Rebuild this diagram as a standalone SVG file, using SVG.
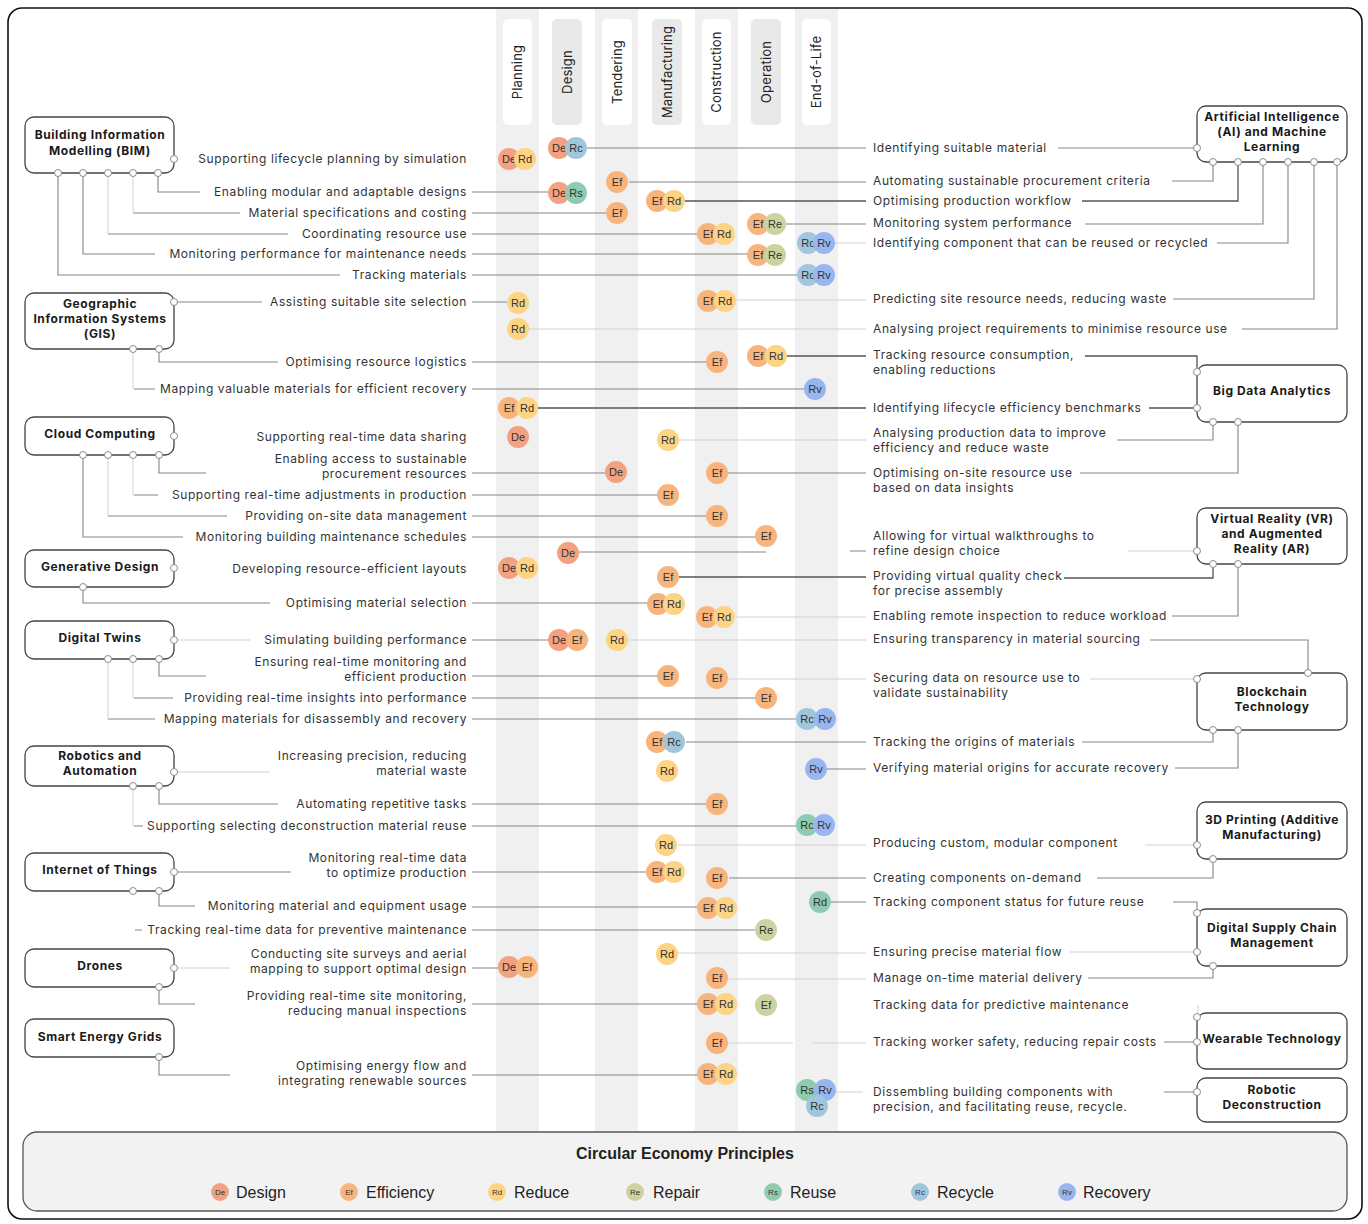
<svg xmlns="http://www.w3.org/2000/svg" width="1368" height="1224" viewBox="0 0 1368 1224">
<style>
.t{font-family:Inter,"Open Sans",sans-serif;font-size:12px;letter-spacing:0.6px;fill:#333}
.l{text-anchor:end}
.h{font-family:Inter,"Open Sans",sans-serif;font-size:13px;letter-spacing:0.2px;fill:#222;text-anchor:middle}
.n{font-family:Inter,"Open Sans",sans-serif;font-size:12px;letter-spacing:0.6px;font-weight:700;fill:#1a1a1a;text-anchor:middle}
.box{fill:#fff;stroke:#444;stroke-width:1.3}
.cw{fill:#fff}.cg{fill:#e9e9e9}
.band{fill:#f0f0f0}
.cn{fill:#fff;stroke:#8a8a8a;stroke-width:1}
.ln{fill:none;stroke:#858585;stroke-width:1.1}
.lf{fill:none;stroke:#d2d2d2;stroke-width:1}
.ld{fill:none;stroke:#555;stroke-width:1.3}
.ct{font-family:"Liberation Sans",Arial,sans-serif;font-size:11px;fill:#333;text-anchor:middle}
.cs{font-family:"Liberation Sans",Arial,sans-serif;font-size:8px;fill:#333;text-anchor:middle}
.lg{font-family:"Liberation Sans",Arial,sans-serif;font-size:16px;fill:#222}
.De{fill:#f2a282}.Ef{fill:#f8b47d}.Rd{fill:#fdd384}.Re{fill:#ccd3a1}.Rs{fill:#8fcbb0}.Rc{fill:#a0c6dc}.Rv{fill:#97b5ef}
</style>
<rect x="8" y="8" width="1354" height="1211" rx="14" fill="#fff"/>
<g id="columns">
<rect class="band" x="496" y="9" width="43" height="1122"/>
<rect class="band" x="595" y="9" width="43" height="1122"/>
<rect class="band" x="695" y="9" width="43" height="1122"/>
<rect class="band" x="795" y="9" width="43" height="1122"/>
<rect class="cw" x="503" y="19" width="29" height="106" rx="5"/>
<rect class="cg" x="552" y="19" width="30" height="106" rx="5"/>
<rect class="cw" x="602" y="19" width="30" height="106" rx="5"/>
<rect class="cg" x="652" y="19" width="30" height="106" rx="5"/>
<rect class="cw" x="702" y="19" width="29" height="106" rx="5"/>
<rect class="cg" x="751" y="19" width="30" height="106" rx="5"/>
<rect class="cw" x="802" y="19" width="29" height="106" rx="5"/>
<text class="h" transform="translate(522,72) rotate(-90)">Planning</text>
<text class="h" transform="translate(571.5,72) rotate(-90)">Design</text>
<text class="h" transform="translate(621.5,72) rotate(-90)">Tendering</text>
<text class="h" transform="translate(671.5,72) rotate(-90)">Manufacturing</text>
<text class="h" transform="translate(721,72) rotate(-90)">Construction</text>
<text class="h" transform="translate(770.5,72) rotate(-90)">Operation</text>
<text class="h" transform="translate(821,72) rotate(-90)">End-of-Life</text>
</g>
<rect x="8" y="8" width="1354" height="1211" rx="14" fill="none" stroke="#111" stroke-width="1.6"/>
<g id="connectors">
<path class="ln" d="M158 176V192H200M133 213H240M108 234H288M83 176V254H155M58 176V275H340"/>
<path class="lf" d="M133 176V213M108 176V234"/>
<path class="ln" d="M472 192H548M472 213H606M472 234H697M472 254H747M472 275H797"/>
<path class="ln" d="M177 302H262M472 302H507M159 352V362H278M472 362H706M134 389H155M472 389H804"/>
<path class="lf" d="M133 352V389"/>
<path class="ln" d="M159 458V473H206M472 473H605M134 495H158M472 495H657M108 516H227M472 516H706M83 458V537H183M472 537H755"/>
<path class="lf" d="M133 458V495M108 458V516"/>
<path class="ln" d="M83 590V603H270M472 603H647"/>
<path class="lf" d="M177 640H250"/>
<path class="ln" d="M472 640H548M159 662V676H206M472 676H657M134 698H173M472 698H755M108 719H155M472 719H796"/>
<path class="lf" d="M133 662V698M108 662V719M177 772H270"/>
<path class="ln" d="M159 789V804H278M472 804H706M134 826H143M472 826H796"/>
<path class="lf" d="M133 789V826"/>
<path class="ln" d="M177 872H291M472 872H646M159 894V906H195M472 907H697M135 930H142M472 930H755"/>
<path class="lf" d="M177 968H230"/>
<path class="ln" d="M472 968H498M159 990V1004H195M472 1004H697M159 1060V1075H230M472 1075H697"/>
<path class="ln" d="M587 148H866M1058 148H1194M629 182H866M1172 181H1213V165"/>
<path class="ld" d="M685 201H866M1082 201H1238V165"/>
<path class="ln" d="M786 224H866M1085 224H1263V165"/>
<path class="lf" d="M835 243H866M736 300H866M529 329H866"/>
<path class="ln" d="M1217 243H1288V165M1173 299H1314V165M1242 329H1337V165"/>
<path class="ld" d="M787 356H866M1085 356H1197V368M537 408H866M1149 408H1194"/>
<path class="lf" d="M679 440H866"/>
<path class="ln" d="M1117 440H1213V425M728 473H866M1080 473H1238V425"/>
<path class="ln" d="M579 552H766M850 551H866"/>
<path class="lf" d="M1128 551H1194"/>
<path class="ld" d="M679 577H866M1064 578H1213V567"/>
<path class="lf" d="M736 617H866M628 640H866M728 679H866M1090 679H1194"/>
<path class="ln" d="M1172 616H1238V567M1150 640H1308V670"/>
<path class="ln" d="M686 742H866M1082 742H1213V733M827 769H866M1175 768H1238V733"/>
<path class="lf" d="M678 845H866M1145 845H1194"/>
<path class="ln" d="M729 878H866M1097 878H1213V862M831 902H866M1173 902H1197V910"/>
<path class="lf" d="M678 953H866M1070 952H1194M729 979H866"/>
<path class="ln" d="M1088 978H1213V969"/>
<path class="lf" d="M1198 1005V1013M729 1043H793M812 1043H866M835 1092H863"/>
<path class="ln" d="M1164 1042H1194M1164 1092H1194"/>
</g>
<g id="node-bim"><rect class="box" x="25" y="117" width="149" height="56" rx="9"/><text class="n" x="100" y="139">Building Information</text><text class="n" x="100" y="155">Modelling (BIM)</text>
<circle class="cn" cx="174" cy="159" r="3.5"/><circle class="cn" cx="58" cy="173" r="3.5"/><circle class="cn" cx="83" cy="173" r="3.5"/><circle class="cn" cx="108" cy="173" r="3.5"/><circle class="cn" cx="133" cy="173" r="3.5"/><circle class="cn" cx="158" cy="173" r="3.5"/></g>
<g id="node-gis"><rect class="box" x="25" y="293" width="149" height="56" rx="9"/><text class="n" x="100" y="308">Geographic</text><text class="n" x="100" y="323">Information Systems</text><text class="n" x="100" y="338">(GIS)</text>
<circle class="cn" cx="174" cy="302" r="3.5"/><circle class="cn" cx="133" cy="349" r="3.5"/><circle class="cn" cx="159" cy="349" r="3.5"/></g>
<g id="node-cloud"><rect class="box" x="25" y="417" width="149" height="38" rx="9"/><text class="n" x="100" y="438">Cloud Computing</text>
<circle class="cn" cx="174" cy="436" r="3.5"/><circle class="cn" cx="83" cy="455" r="3.5"/><circle class="cn" cx="108" cy="455" r="3.5"/><circle class="cn" cx="133" cy="455" r="3.5"/><circle class="cn" cx="159" cy="455" r="3.5"/></g>
<g id="node-gendesign"><rect class="box" x="25" y="550" width="149" height="37" rx="9"/><text class="n" x="100" y="571">Generative Design</text>
<circle class="cn" cx="174" cy="568" r="3.5"/><circle class="cn" cx="83" cy="587" r="3.5"/></g>
<g id="node-twins"><rect class="box" x="25" y="621" width="149" height="38" rx="9"/><text class="n" x="100" y="642">Digital Twins</text>
<circle class="cn" cx="174" cy="640" r="3.5"/><circle class="cn" cx="108" cy="659" r="3.5"/><circle class="cn" cx="133" cy="659" r="3.5"/><circle class="cn" cx="159" cy="659" r="3.5"/></g>
<g id="node-robotics"><rect class="box" x="25" y="746" width="149" height="40" rx="9"/><text class="n" x="100" y="760">Robotics and</text><text class="n" x="100" y="775">Automation</text>
<circle class="cn" cx="174" cy="772" r="3.5"/><circle class="cn" cx="133" cy="786" r="3.5"/><circle class="cn" cx="159" cy="786" r="3.5"/></g>
<g id="node-iot"><rect class="box" x="25" y="853" width="149" height="38" rx="9"/><text class="n" x="100" y="874">Internet of Things</text>
<circle class="cn" cx="174" cy="872" r="3.5"/><circle class="cn" cx="133" cy="891" r="3.5"/><circle class="cn" cx="159" cy="891" r="3.5"/></g>
<g id="node-drones"><rect class="box" x="25" y="949" width="149" height="38" rx="9"/><text class="n" x="100" y="970">Drones</text>
<circle class="cn" cx="174" cy="968" r="3.5"/><circle class="cn" cx="159" cy="987" r="3.5"/></g>
<g id="node-grids"><rect class="box" x="25" y="1019" width="149" height="38" rx="9"/><text class="n" x="100" y="1041">Smart Energy Grids</text>
<circle class="cn" cx="159" cy="1057" r="3.5"/></g>
<g id="node-ai"><rect class="box" x="1197" y="106" width="150" height="56" rx="9"/><text class="n" x="1272" y="121">Artificial Intelligence</text><text class="n" x="1272" y="136">(AI) and Machine</text><text class="n" x="1272" y="151">Learning</text>
<circle class="cn" cx="1197" cy="148" r="3.5"/><circle class="cn" cx="1213" cy="162" r="3.5"/><circle class="cn" cx="1238" cy="162" r="3.5"/><circle class="cn" cx="1263" cy="162" r="3.5"/><circle class="cn" cx="1288" cy="162" r="3.5"/><circle class="cn" cx="1314" cy="162" r="3.5"/><circle class="cn" cx="1337" cy="162" r="3.5"/></g>
<g id="node-bigdata"><rect class="box" x="1197" y="365" width="150" height="57" rx="9"/><text class="n" x="1272" y="395">Big Data Analytics</text>
<circle class="cn" cx="1197" cy="372" r="3.5"/><circle class="cn" cx="1197" cy="408" r="3.5"/><circle class="cn" cx="1213" cy="422" r="3.5"/><circle class="cn" cx="1238" cy="422" r="3.5"/></g>
<g id="node-vrar"><rect class="box" x="1197" y="508" width="150" height="56" rx="9"/><text class="n" x="1272" y="523">Virtual Reality (VR)</text><text class="n" x="1272" y="538">and Augmented</text><text class="n" x="1272" y="553">Reality (AR)</text>
<circle class="cn" cx="1197" cy="551" r="3.5"/><circle class="cn" cx="1213" cy="564" r="3.5"/><circle class="cn" cx="1238" cy="564" r="3.5"/></g>
<g id="node-blockchain"><rect class="box" x="1197" y="673" width="150" height="57" rx="9"/><text class="n" x="1272" y="696">Blockchain</text><text class="n" x="1272" y="711">Technology</text>
<circle class="cn" cx="1197" cy="679" r="3.5"/><circle class="cn" cx="1308" cy="673" r="3.5"/><circle class="cn" cx="1213" cy="730" r="3.5"/><circle class="cn" cx="1238" cy="730" r="3.5"/></g>
<g id="node-3dprinting"><rect class="box" x="1197" y="802" width="150" height="57" rx="9"/><text class="n" x="1272" y="824">3D Printing (Additive</text><text class="n" x="1272" y="839">Manufacturing)</text>
<circle class="cn" cx="1197" cy="845" r="3.5"/><circle class="cn" cx="1213" cy="859" r="3.5"/></g>
<g id="node-supplychain"><rect class="box" x="1197" y="909" width="150" height="57" rx="9"/><text class="n" x="1272" y="932">Digital Supply Chain</text><text class="n" x="1272" y="947">Management</text>
<circle class="cn" cx="1197" cy="913" r="3.5"/><circle class="cn" cx="1197" cy="952" r="3.5"/><circle class="cn" cx="1213" cy="966" r="3.5"/></g>
<g id="node-wearable"><rect class="box" x="1197" y="1013" width="150" height="56" rx="9"/><text class="n" x="1272" y="1043">Wearable Technology</text>
<circle class="cn" cx="1197" cy="1017" r="3.5"/><circle class="cn" cx="1197" cy="1042" r="3.5"/></g>
<g id="node-deconstruction"><rect class="box" x="1197" y="1078" width="150" height="44" rx="9"/><text class="n" x="1272" y="1094">Robotic</text><text class="n" x="1272" y="1109">Deconstruction</text>
<circle class="cn" cx="1197" cy="1092" r="3.5"/></g>
<g id="labels-left">
<text class="t l" x="467" y="163">Supporting lifecycle planning by simulation</text>
<text class="t l" x="467" y="196">Enabling modular and adaptable designs</text>
<text class="t l" x="467" y="217">Material specifications and costing</text>
<text class="t l" x="467" y="238">Coordinating resource use</text>
<text class="t l" x="467" y="258">Monitoring performance for maintenance needs</text>
<text class="t l" x="467" y="279">Tracking materials</text>
<text class="t l" x="467" y="306">Assisting suitable site selection</text>
<text class="t l" x="467" y="366">Optimising resource logistics</text>
<text class="t l" x="467" y="393">Mapping valuable materials for efficient recovery</text>
<text class="t l" x="467" y="441">Supporting real-time data sharing</text>
<text class="t l" x="467" y="463">Enabling access to sustainable</text>
<text class="t l" x="467" y="478">procurement resources</text>
<text class="t l" x="467" y="499">Supporting real-time adjustments in production</text>
<text class="t l" x="467" y="520">Providing on-site data management</text>
<text class="t l" x="467" y="541">Monitoring building maintenance schedules</text>
<text class="t l" x="467" y="573">Developing resource-efficient layouts</text>
<text class="t l" x="467" y="607">Optimising material selection</text>
<text class="t l" x="467" y="644">Simulating building performance</text>
<text class="t l" x="467" y="666">Ensuring real-time monitoring and</text>
<text class="t l" x="467" y="681">efficient production</text>
<text class="t l" x="467" y="702">Providing real-time insights into performance</text>
<text class="t l" x="467" y="723">Mapping materials for disassembly and recovery</text>
<text class="t l" x="467" y="760">Increasing precision, reducing</text>
<text class="t l" x="467" y="775">material waste</text>
<text class="t l" x="467" y="808">Automating repetitive tasks</text>
<text class="t l" x="467" y="830">Supporting selecting deconstruction material reuse</text>
<text class="t l" x="467" y="862">Monitoring real-time data</text>
<text class="t l" x="467" y="877">to optimize production</text>
<text class="t l" x="467" y="910">Monitoring material and equipment usage</text>
<text class="t l" x="467" y="934">Tracking real-time data for preventive maintenance</text>
<text class="t l" x="467" y="958">Conducting site surveys and aerial</text>
<text class="t l" x="467" y="973">mapping to support optimal design</text>
<text class="t l" x="467" y="1000">Providing real-time site monitoring,</text>
<text class="t l" x="467" y="1015">reducing manual inspections</text>
<text class="t l" x="467" y="1070">Optimising energy flow and</text>
<text class="t l" x="467" y="1085">integrating renewable sources</text>
</g>
<g id="labels-right">
<text class="t" x="873" y="152">Identifying suitable material</text>
<text class="t" x="873" y="185">Automating sustainable procurement criteria</text>
<text class="t" x="873" y="205">Optimising production workflow</text>
<text class="t" x="873" y="227">Monitoring system performance</text>
<text class="t" x="873" y="247">Identifying component that can be reused or recycled</text>
<text class="t" x="873" y="303">Predicting site resource needs, reducing waste</text>
<text class="t" x="873" y="333">Analysing project requirements to minimise resource use</text>
<text class="t" x="873" y="359">Tracking resource consumption,</text>
<text class="t" x="873" y="374">enabling reductions</text>
<text class="t" x="873" y="412">Identifying lifecycle efficiency benchmarks</text>
<text class="t" x="873" y="437">Analysing production data to improve</text>
<text class="t" x="873" y="452">efficiency and reduce waste</text>
<text class="t" x="873" y="477">Optimising on-site resource use</text>
<text class="t" x="873" y="492">based on data insights</text>
<text class="t" x="873" y="540">Allowing for virtual walkthroughs to</text>
<text class="t" x="873" y="555">refine design choice</text>
<text class="t" x="873" y="580">Providing virtual quality check</text>
<text class="t" x="873" y="595">for precise assembly</text>
<text class="t" x="873" y="620">Enabling remote inspection to reduce workload</text>
<text class="t" x="873" y="643">Ensuring transparency in material sourcing</text>
<text class="t" x="873" y="682">Securing data on resource use to</text>
<text class="t" x="873" y="697">validate sustainability</text>
<text class="t" x="873" y="746">Tracking the origins of materials</text>
<text class="t" x="873" y="772">Verifying material origins for accurate recovery</text>
<text class="t" x="873" y="847">Producing custom, modular component</text>
<text class="t" x="873" y="882">Creating components on-demand</text>
<text class="t" x="873" y="906">Tracking component status for future reuse</text>
<text class="t" x="873" y="956">Ensuring precise material flow</text>
<text class="t" x="873" y="982">Manage on-time material delivery</text>
<text class="t" x="873" y="1009">Tracking data for predictive maintenance</text>
<text class="t" x="873" y="1046">Tracking worker safety, reducing repair costs</text>
<text class="t" x="873" y="1096">Dissembling building components with</text>
<text class="t" x="873" y="1111">precision, and facilitating reuse, recycle.</text>
</g>
<g id="principle-markers">
<circle class="De" cx="559" cy="148" r="11"/><text class="ct" x="559" y="152">De</text><circle class="Rc" cx="576" cy="148" r="11"/><text class="ct" x="576" y="152">Rc</text>
<circle class="De" cx="509" cy="159" r="11"/><text class="ct" x="509" y="163">De</text><circle class="Rd" cx="525" cy="159" r="11"/><text class="ct" x="525" y="163">Rd</text>
<circle class="Ef" cx="617" cy="182" r="11"/><text class="ct" x="617" y="186">Ef</text>
<circle class="De" cx="559" cy="193" r="11"/><text class="ct" x="559" y="197">De</text><circle class="Rs" cx="576" cy="193" r="11"/><text class="ct" x="576" y="197">Rs</text>
<circle class="Ef" cx="657" cy="201" r="11"/><text class="ct" x="657" y="205">Ef</text><circle class="Rd" cx="674" cy="201" r="11"/><text class="ct" x="674" y="205">Rd</text>
<circle class="Ef" cx="617" cy="213" r="11"/><text class="ct" x="617" y="217">Ef</text>
<circle class="Ef" cx="758" cy="224" r="11"/><text class="ct" x="758" y="228">Ef</text><circle class="Re" cx="775" cy="224" r="11"/><text class="ct" x="775" y="228">Re</text>
<circle class="Ef" cx="708" cy="234" r="11"/><text class="ct" x="708" y="238">Ef</text><circle class="Rd" cx="724" cy="234" r="11"/><text class="ct" x="724" y="238">Rd</text>
<circle class="Rc" cx="808" cy="243" r="11"/><text class="ct" x="808" y="247">Rc</text><circle class="Rv" cx="824" cy="243" r="11"/><text class="ct" x="824" y="247">Rv</text>
<circle class="Ef" cx="758" cy="255" r="11"/><text class="ct" x="758" y="259">Ef</text><circle class="Re" cx="775" cy="255" r="11"/><text class="ct" x="775" y="259">Re</text>
<circle class="Rc" cx="808" cy="275" r="11"/><text class="ct" x="808" y="279">Rc</text><circle class="Rv" cx="824" cy="275" r="11"/><text class="ct" x="824" y="279">Rv</text>
<circle class="Ef" cx="708" cy="301" r="11"/><text class="ct" x="708" y="305">Ef</text><circle class="Rd" cx="725" cy="301" r="11"/><text class="ct" x="725" y="305">Rd</text>
<circle class="Rd" cx="518" cy="303" r="11"/><text class="ct" x="518" y="307">Rd</text>
<circle class="Rd" cx="518" cy="329" r="11"/><text class="ct" x="518" y="333">Rd</text>
<circle class="Ef" cx="758" cy="356" r="11"/><text class="ct" x="758" y="360">Ef</text><circle class="Rd" cx="776" cy="356" r="11"/><text class="ct" x="776" y="360">Rd</text>
<circle class="Ef" cx="717" cy="362" r="11"/><text class="ct" x="717" y="366">Ef</text>
<circle class="Rv" cx="815" cy="389" r="11"/><text class="ct" x="815" y="393">Rv</text>
<circle class="Ef" cx="509" cy="408" r="11"/><text class="ct" x="509" y="412">Ef</text><circle class="Rd" cx="527" cy="408" r="11"/><text class="ct" x="527" y="412">Rd</text>
<circle class="De" cx="518" cy="437" r="11"/><text class="ct" x="518" y="441">De</text>
<circle class="Rd" cx="668" cy="440" r="11"/><text class="ct" x="668" y="444">Rd</text>
<circle class="De" cx="616" cy="472" r="11"/><text class="ct" x="616" y="476">De</text>
<circle class="Ef" cx="717" cy="473" r="11"/><text class="ct" x="717" y="477">Ef</text>
<circle class="Ef" cx="668" cy="495" r="11"/><text class="ct" x="668" y="499">Ef</text>
<circle class="Ef" cx="717" cy="516" r="11"/><text class="ct" x="717" y="520">Ef</text>
<circle class="Ef" cx="766" cy="536" r="11"/><text class="ct" x="766" y="540">Ef</text>
<circle class="De" cx="568" cy="553" r="11"/><text class="ct" x="568" y="557">De</text>
<circle class="De" cx="509" cy="568" r="11"/><text class="ct" x="509" y="572">De</text><circle class="Rd" cx="527" cy="568" r="11"/><text class="ct" x="527" y="572">Rd</text>
<circle class="Ef" cx="668" cy="577" r="11"/><text class="ct" x="668" y="581">Ef</text>
<circle class="Ef" cx="658" cy="604" r="11"/><text class="ct" x="658" y="608">Ef</text><circle class="Rd" cx="674" cy="604" r="11"/><text class="ct" x="674" y="608">Rd</text>
<circle class="Ef" cx="707" cy="617" r="11"/><text class="ct" x="707" y="621">Ef</text><circle class="Rd" cx="724" cy="617" r="11"/><text class="ct" x="724" y="621">Rd</text>
<circle class="De" cx="559" cy="640" r="11"/><text class="ct" x="559" y="644">De</text><circle class="Ef" cx="577" cy="640" r="11"/><text class="ct" x="577" y="644">Ef</text>
<circle class="Rd" cx="617" cy="640" r="11"/><text class="ct" x="617" y="644">Rd</text>
<circle class="Ef" cx="668" cy="676" r="11"/><text class="ct" x="668" y="680">Ef</text>
<circle class="Ef" cx="717" cy="678" r="11"/><text class="ct" x="717" y="682">Ef</text>
<circle class="Ef" cx="766" cy="698" r="11"/><text class="ct" x="766" y="702">Ef</text>
<circle class="Rc" cx="807" cy="719" r="11"/><text class="ct" x="807" y="723">Rc</text><circle class="Rv" cx="825" cy="719" r="11"/><text class="ct" x="825" y="723">Rv</text>
<circle class="Ef" cx="657" cy="742" r="11"/><text class="ct" x="657" y="746">Ef</text><circle class="Rc" cx="674" cy="742" r="11"/><text class="ct" x="674" y="746">Rc</text>
<circle class="Rd" cx="667" cy="771" r="11"/><text class="ct" x="667" y="775">Rd</text>
<circle class="Rv" cx="816" cy="769" r="11"/><text class="ct" x="816" y="773">Rv</text>
<circle class="Ef" cx="717" cy="804" r="11"/><text class="ct" x="717" y="808">Ef</text>
<circle class="Rs" cx="807" cy="825" r="11"/><text class="ct" x="807" y="829">Rc</text><circle class="Rv" cx="824" cy="825" r="11"/><text class="ct" x="824" y="829">Rv</text>
<circle class="Rd" cx="666" cy="845" r="11"/><text class="ct" x="666" y="849">Rd</text>
<circle class="Ef" cx="657" cy="872" r="11"/><text class="ct" x="657" y="876">Ef</text><circle class="Rd" cx="674" cy="872" r="11"/><text class="ct" x="674" y="876">Rd</text>
<circle class="Ef" cx="717" cy="878" r="11"/><text class="ct" x="717" y="882">Ef</text>
<circle class="Rs" cx="820" cy="902" r="11"/><text class="ct" x="820" y="906">Rd</text>
<circle class="Ef" cx="708" cy="908" r="11"/><text class="ct" x="708" y="912">Ef</text><circle class="Rd" cx="726" cy="908" r="11"/><text class="ct" x="726" y="912">Rd</text>
<circle class="Re" cx="766" cy="930" r="11"/><text class="ct" x="766" y="934">Re</text>
<circle class="Rd" cx="667" cy="954" r="11"/><text class="ct" x="667" y="958">Rd</text>
<circle class="De" cx="509" cy="967" r="11"/><text class="ct" x="509" y="971">De</text><circle class="Ef" cx="527" cy="967" r="11"/><text class="ct" x="527" y="971">Ef</text>
<circle class="Ef" cx="717" cy="978" r="11"/><text class="ct" x="717" y="982">Ef</text>
<circle class="Ef" cx="708" cy="1004" r="11"/><text class="ct" x="708" y="1008">Ef</text><circle class="Rd" cx="726" cy="1004" r="11"/><text class="ct" x="726" y="1008">Rd</text>
<circle class="Re" cx="766" cy="1005" r="11"/><text class="ct" x="766" y="1009">Ef</text>
<circle class="Ef" cx="717" cy="1043" r="11"/><text class="ct" x="717" y="1047">Ef</text>
<circle class="Ef" cx="708" cy="1074" r="11"/><text class="ct" x="708" y="1078">Ef</text><circle class="Rd" cx="726" cy="1074" r="11"/><text class="ct" x="726" y="1078">Rd</text>
<circle class="Rs" cx="807" cy="1090" r="11"/><text class="ct" x="807" y="1094">Rs</text><circle class="Rv" cx="825" cy="1090" r="11"/><text class="ct" x="825" y="1094">Rv</text><circle class="Rc" cx="817" cy="1106" r="11"/><text class="ct" x="817" y="1110">Rc</text>
</g>
<g id="legend">
<rect x="23" y="1132" width="1324" height="79" rx="14" fill="#f2f2f2" stroke="#555" stroke-width="1.3"/>
<text x="685" y="1159" font-family="Liberation Sans, Arial, sans-serif" font-size="16" font-weight="700" fill="#222" text-anchor="middle">Circular Economy Principles</text>
<circle class="De" cx="220" cy="1192" r="9"/><text class="cs" x="220" y="1195">De</text><text class="lg" x="236" y="1198">Design</text>
<circle class="Ef" cx="349" cy="1192" r="9"/><text class="cs" x="349" y="1195">Ef</text><text class="lg" x="366" y="1198">Efficiency</text>
<circle class="Rd" cx="497" cy="1192" r="9"/><text class="cs" x="497" y="1195">Rd</text><text class="lg" x="514" y="1198">Reduce</text>
<circle class="Re" cx="635" cy="1192" r="9"/><text class="cs" x="635" y="1195">Re</text><text class="lg" x="653" y="1198">Repair</text>
<circle class="Rs" cx="773" cy="1192" r="9"/><text class="cs" x="773" y="1195">Rs</text><text class="lg" x="790" y="1198">Reuse</text>
<circle class="Rc" cx="920" cy="1192" r="9"/><text class="cs" x="920" y="1195">Rc</text><text class="lg" x="937" y="1198">Recycle</text>
<circle class="Rv" cx="1067" cy="1192" r="9"/><text class="cs" x="1067" y="1195">Rv</text><text class="lg" x="1083" y="1198">Recovery</text>
</g>
</svg>
